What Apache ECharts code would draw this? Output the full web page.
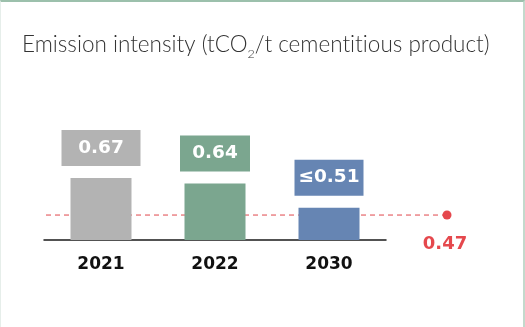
<!DOCTYPE html>
<html>
<head>
<meta charset="utf-8">
<script src="https://cdn.jsdelivr.net/npm/echarts@6/dist/echarts.min.js"></script>
<style>
  html, body { margin: 0; padding: 0; background: #ffffff; }
  #frame {
    position: relative;
    width: 525px; height: 327px;
    box-sizing: border-box;
    border-top: 2px solid #9cc0ac;
    border-left: 1px solid #e6eeea;
    border-right: 2px solid #c3d9cc;
  }
  #chart { position: absolute; left: -1px; top: -2px; width: 525px; height: 327px; }
</style>
</head>
<body>
<div id="frame"><div id="chart"></div></div>
<script>
// Emission intensity by year
const years = ['2021', '2022', '2030'];
const intensity = [0.67, 0.64, 0.51];
const valueLabels = ['0.67', '0.64', '\u22640.51'];
const barColors = ['#b3b3b3', '#7ba68f', '#6685b3'];
const labelBoxWidths = [79, 70, 69];

// 2030 target line
const targetValue = 0.47;
const targetLabel = '0.47';

const yMin = 0.335, yMax = 0.93;

// zero-width non-joiner keeps the "ti" pairs from fusing into ligatures
const ZWNJ = '\u200C';
const titleHead = 'Emission intensity (tCO'.replace(/ti/g, 't' + ZWNJ + 'i');
const titleTail = '/t cementitious product)'.replace(/ti/g, 't' + ZWNJ + 'i');

const chart = echarts.init(document.getElementById('chart'), null, { renderer: 'canvas' });

chart.setOption({
  animation: false,
  backgroundColor: 'transparent',
  title: {
    left: 22, top: 31, padding: 0,
    text: '{a|' + titleHead + '}{s|2}{a|' + titleTail + '}',
    textStyle: {
      rich: {
        a: { fontFamily: 'Lato', fontWeight: 300, fontSize: 22.5, color: '#333333', lineHeight: 28 },
        s: { fontFamily: 'Lato', fontWeight: 300, fontSize: 12.5, color: '#333333', lineHeight: 28, padding: [17, 0, 0, 0] }
      }
    }
  },
  grid: [
    { left: 44, right: 139, top: 130, bottom: 87 },
    { left: 46, right: 78, top: 130, bottom: 87 }
  ],
  xAxis: [
    {
      type: 'category', gridIndex: 0, data: years,
      axisLine: { lineStyle: { color: '#1a1a1a', width: 1.5 } },
      axisTick: { show: false },
      axisLabel: { margin: 16, fontFamily: 'DejaVu Sans', fontWeight: 'bold', fontSize: 17, color: '#111111' }
    },
    { type: 'value', gridIndex: 1, min: 0, max: 1, show: false }
  ],
  yAxis: [
    { type: 'value', gridIndex: 0, min: yMin, max: yMax, show: false },
    { type: 'value', gridIndex: 1, min: yMin, max: yMax, show: false }
  ],
  series: [
    {
      type: 'line', xAxisIndex: 1, yAxisIndex: 1, z: 1,
      data: [
        { value: [0, targetValue], symbol: 'none' },
        {
          value: [1, targetValue], symbol: 'circle', symbolSize: 9,
          label: {
            show: true, position: 'bottom', distance: 16, offset: [-2, 0],
            formatter: targetLabel,
            fontFamily: 'DejaVu Sans', fontWeight: 'bold', fontSize: 18, color: '#e5484d'
          }
        }
      ],
      lineStyle: { color: '#e0474c', width: 1, type: [5, 4] },
      itemStyle: { color: '#e5484d' }
    },
    {
      type: 'bar', xAxisIndex: 0, yAxisIndex: 0, z: 3,
      barWidth: 61,
      data: intensity.map((v, i) => ({
        value: v,
        itemStyle: { color: barColors[i] },
        label: {
          show: true, position: 'top', distance: 12,
          formatter: valueLabels[i],
          backgroundColor: barColors[i],
          width: labelBoxWidths[i], height: 36, lineHeight: 36,
          align: 'center',
          fontFamily: 'DejaVu Sans', fontWeight: 'bold', fontSize: 18.5, color: '#ffffff'
        }
      }))
    }
  ]
});
</script>
</body>
</html>
